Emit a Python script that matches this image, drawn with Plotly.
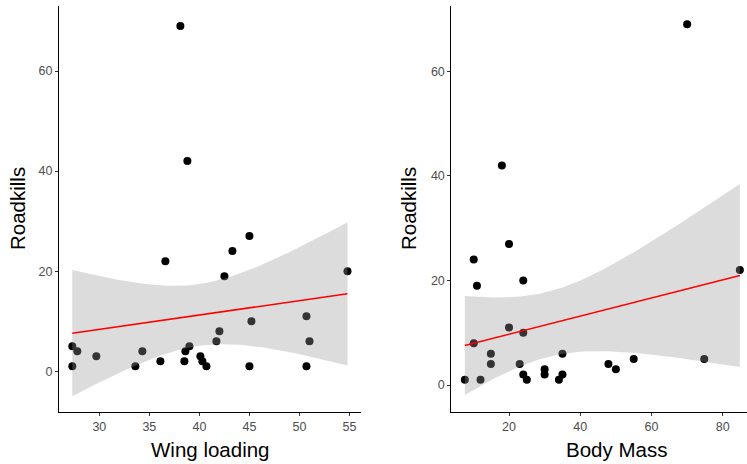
import numpy as np
import plotly.graph_objects as go

# ---- data ----
wing_loading = [38.1, 38.8, 45.0, 43.3, 36.6, 42.5, 54.8, 50.7, 45.2, 42.0, 41.7, 51.0, 27.3, 27.8,
                29.7, 34.3, 39.0, 38.6, 40.1, 40.3, 40.7, 38.5, 36.1, 33.6, 27.3, 45.0, 50.7]
roadkills_wl = [69, 42, 27, 24, 22, 19, 20, 11, 10, 8, 6, 6, 5, 4,
                3, 4, 5, 4, 3, 2, 1, 2, 2, 1, 1, 1, 1]

body_mass = [70, 18, 20, 10.1, 11, 24, 84.8, 20, 24, 10.1, 14.9, 14.9, 35, 23,
             7.6, 12, 24, 25, 30, 30, 34, 35, 47.9, 50, 55, 74.8]
roadkills_bm = [69, 42, 27, 24, 19, 20, 22, 11, 10, 8, 6, 4, 6, 4,
                1, 1, 2, 1, 3, 2, 1, 2, 4, 3, 5, 5]

T_CRIT = 2.06


def lm_band(x, y, n_pts=80):
    x = np.asarray(x, float)
    y = np.asarray(y, float)
    n = len(x)
    b, a = np.polyfit(x, y, 1)
    resid = y - (a + b * x)
    s = np.sqrt(np.sum(resid ** 2) / (n - 2))
    xm = x.mean()
    sxx = np.sum((x - xm) ** 2)
    xs = np.linspace(x.min(), x.max(), n_pts)
    yh = a + b * xs
    se = s * np.sqrt(1.0 / n + (xs - xm) ** 2 / sxx)
    return xs, yh, yh - T_CRIT * se, yh + T_CRIT * se


fig = go.Figure()

panels = [
    (wing_loading, roadkills_wl, "x", "y"),
    (body_mass, roadkills_bm, "x2", "y2"),
]
for xv, yv, xa, ya in panels:
    fig.add_trace(go.Scatter(x=xv, y=yv, mode="markers", xaxis=xa, yaxis=ya,
                             marker=dict(color="black", size=8, line=dict(width=0)),
                             showlegend=False, hoverinfo="skip"))
    xs, yh, lo, hi = lm_band(xv, yv)
    fig.add_trace(go.Scatter(x=np.concatenate([xs, xs[::-1]]), y=np.concatenate([hi, lo[::-1]]),
                             mode="lines", fill="toself", fillcolor="rgba(153,153,153,0.34)",
                             line=dict(width=0), xaxis=xa, yaxis=ya, showlegend=False,
                             hoverinfo="skip"))
    fig.add_trace(go.Scatter(x=xs, y=yh, mode="lines", line=dict(color="#FF0000", width=1.5),
                             xaxis=xa, yaxis=ya, showlegend=False, hoverinfo="skip"))

W, H = 747, 464
tickfont = dict(family="Liberation Sans, Arial, sans-serif", size=12.5, color="#4D4D4D")
axis_common = dict(showline=True, linecolor="black", linewidth=1, ticks="outside",
                   ticklen=3, tickcolor="#333333", tickwidth=1, showgrid=False,
                   zeroline=False, tickfont=tickfont)

fig.update_layout(
    width=W, height=H,
    margin=dict(l=0, r=0, t=0, b=0),
    plot_bgcolor="white", paper_bgcolor="white",
    xaxis=dict(domain=[59 / W, 361 / W], range=[25.97, 56.15],
               tickvals=[30, 35, 40, 45, 50, 55], anchor="y", **axis_common),
    yaxis=dict(domain=[1 - 411.7 / H, 1 - 6 / H], range=[-8.1, 73],
               tickvals=[0, 20, 40, 60], anchor="x", **axis_common),
    xaxis2=dict(domain=[451.3 / W, 1.0], range=[3.8, 86.8],
                tickvals=[20, 40, 60, 80], anchor="y2", **axis_common),
    yaxis2=dict(domain=[1 - 411.7 / H, 1 - 6 / H], range=[-5.1, 72.5],
                tickvals=[0, 20, 40, 60], anchor="x2", **axis_common),
)

title_font = dict(family="Liberation Sans, Arial, sans-serif", size=20.5, color="black")
annots = [
    dict(text="Wing loading", x=210 / W, y=1 - 449 / H),
    dict(text="Body Mass", x=616 / W, y=1 - 449 / H),
    dict(text="Roadkills", x=17 / W, y=1 - 209 / H, textangle=-90),
    dict(text="Roadkills", x=408 / W, y=1 - 209 / H, textangle=-90),
]
for a in annots:
    fig.add_annotation(xref="paper", yref="paper", showarrow=False, font=title_font,
                       xanchor="center", yanchor="middle", **a)

fig.write_html("out.html", config={"displayModeBar": False},
               post_script="document.body.style.margin='0';document.body.style.overflow='hidden';")
